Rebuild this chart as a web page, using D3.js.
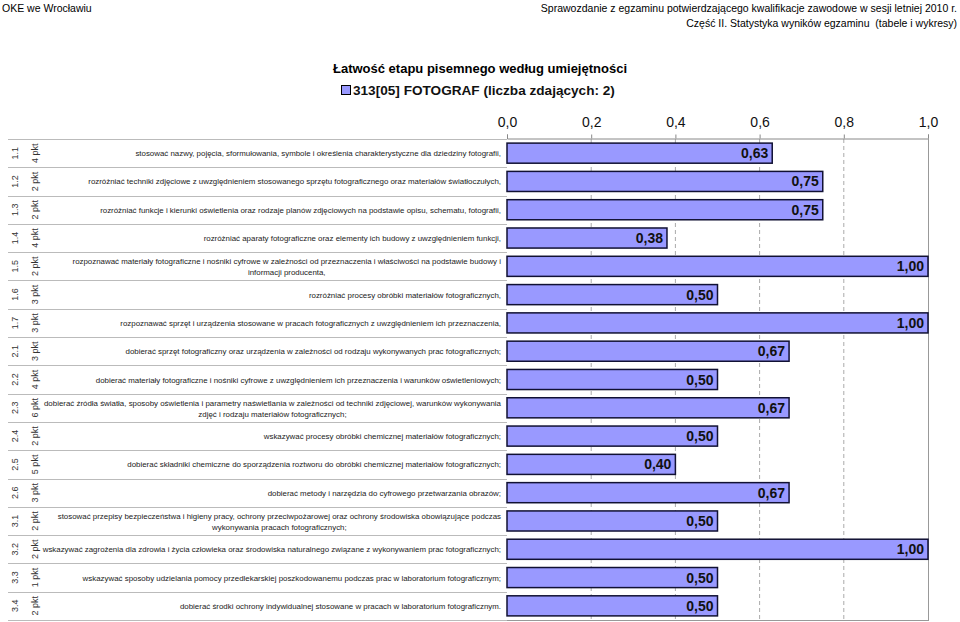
<!DOCTYPE html>
<html><head><meta charset="utf-8">
<script src="https://cdn.jsdelivr.net/npm/d3@7"></script>
<style>
body{margin:0;background:#fff;}
svg{display:block;font-family:"Liberation Sans",Arial,Helvetica,sans-serif;}
</style></head>
<body><svg id="chart" width="960" height="622"></svg>
<script>
const codes = ["1.1","1.2","1.3","1.4","1.5","1.6","1.7","2.1","2.2","2.3","2.4","2.5","2.6","3.1","3.2","3.3","3.4"];
const points = ["4 pkt","2 pkt","2 pkt","4 pkt","2 pkt","3 pkt","3 pkt","3 pkt","4 pkt","6 pkt","2 pkt","5 pkt","3 pkt","2 pkt","2 pkt","1 pkt","2 pkt"];
const descriptions = [
 ["stosować nazwy, pojęcia, sformułowania, symbole i określenia charakterystyczne dla dziedziny fotografii,"],
 ["rozróżniać techniki zdjęciowe z uwzględnieniem stosowanego sprzętu fotograficznego oraz materiałów światłoczułych,"],
 ["rozróżniać funkcje i kierunki oświetlenia oraz rodzaje planów zdjęciowych na podstawie opisu, schematu, fotografii,"],
 ["rozróżniać aparaty fotograficzne oraz elementy ich budowy z uwzględnieniem funkcji,"],
 ["rozpoznawać materiały fotograficzne i nośniki cyfrowe w zależności od przeznaczenia i właściwości na podstawie budowy i","informacji producenta,"],
 ["rozróżniać procesy obróbki materiałów fotograficznych,"],
 ["rozpoznawać sprzęt i urządzenia stosowane w pracach fotograficznych z uwzględnieniem ich przeznaczenia,"],
 ["dobierać sprzęt fotograficzny oraz urządzenia w zależności od rodzaju wykonywanych prac fotograficznych;"],
 ["dobierać materiały fotograficzne i nośniki cyfrowe z uwzględnieniem ich przeznaczenia i warunków oświetleniowych;"],
 ["dobierać źródła światła, sposoby oświetlenia i parametry naświetlania w zależności od techniki zdjęciowej, warunków wykonywania","zdjęć i rodzaju materiałów fotograficznych;"],
 ["wskazywać procesy obróbki chemicznej materiałów fotograficznych;"],
 ["dobierać składniki chemiczne do sporządzenia roztworu do obróbki chemicznej materiałów fotograficznych;"],
 ["dobierać metody i narzędzia do cyfrowego przetwarzania obrazów;"],
 ["stosować przepisy bezpieczeństwa i higieny pracy, ochrony przeciwpożarowej oraz ochrony środowiska obowiązujące podczas","wykonywania pracach fotograficznych;"],
 ["wskazywać zagrożenia dla zdrowia i życia człowieka oraz środowiska naturalnego związane z wykonywaniem prac fotograficznych;"],
 ["wskazywać sposoby udzielania pomocy przedlekarskiej poszkodowanemu podczas prac w laboratorium fotograficznym;"],
 ["dobierać środki ochrony indywidualnej stosowane w pracach w laboratorium fotograficznym."]
];
const values = [0.63,0.75,0.75,0.38,1.00,0.50,1.00,0.67,0.50,0.67,0.50,0.40,0.67,0.50,1.00,0.50,0.50];
const xTicks = [0,0.2,0.4,0.6,0.8,1.0];
const seriesName = "313[05] FOTOGRAF (liczba zdających: 2)";
const title = "Łatwość etapu pisemnego według umiejętności";

const svg = d3.select("#chart");
const fmt = v => d3.format(".2f")(v).replace(".", ",");
const fmt1 = v => d3.format(".1f")(v).replace(".", ",");

const x = d3.scaleLinear().domain([0,1]).range([507,928]);
const y = d3.scaleBand().domain(codes).range([139,620]).paddingInner(0.29).paddingOuter(0.145);

// header
svg.append("text").attr("x",2).attr("y",12).attr("font-size",10.5).attr("fill","#000").text("OKE we Wrocławiu");
svg.append("text").attr("x",957).attr("y",12).attr("text-anchor","end").attr("font-size",10.5).text("Sprawozdanie z egzaminu potwierdzającego kwalifikacje zawodowe w sesji letniej 2010 r.");
svg.append("text").attr("x",957).attr("y",27).attr("text-anchor","end").attr("font-size",10.5).style("white-space","pre").text("Część II. Statystyka wyników egzaminu  (tabele i wykresy)");

// title & legend
svg.append("text").attr("x",480).attr("y",73).attr("text-anchor","middle").attr("font-size",13).attr("font-weight","bold").text(title);
svg.append("rect").attr("x",341.5).attr("y",85.5).attr("width",9).attr("height",9).attr("fill","#9999ff").attr("stroke","#000").attr("stroke-width",1);
svg.append("text").attr("x",353).attr("y",95).attr("font-size",13.6).attr("font-weight","bold").attr("fill","#111").text(seriesName);

// gridlines
svg.append("g").selectAll("line").data(xTicks.filter(t=>t>0&&t<1)).join("line")
  .attr("x1",d=>x(d)).attr("x2",d=>x(d)).attr("y1",139).attr("y2",620)
  .attr("stroke","#aaa").attr("stroke-dasharray","4,3").attr("stroke-width",1);

// top axis
const ax = svg.append("g").attr("transform","translate(0,138.5)")
  .call(d3.axisTop(x).tickValues(xTicks).tickFormat(fmt1).tickSize(4).tickPadding(8));
ax.select(".domain").attr("stroke","#888");
ax.selectAll(".tick line").attr("stroke","#888");
ax.selectAll("text").attr("font-size",14).attr("fill","#111").attr("font-family","'Liberation Sans',Arial,sans-serif");
// right & bottom border
svg.append("line").attr("x1",928.5).attr("x2",928.5).attr("y1",138).attr("y2",620.5).attr("stroke","#999");
svg.append("line").attr("x1",507).attr("x2",929).attr("y1",620.5).attr("y2",620.5).attr("stroke","#999");

// row separators
const step = y.step();
const seps = codes.map((c,i)=>139 + i*step).concat([620]);
svg.append("g").selectAll("line").data(seps).join("line")
  .attr("x1",8).attr("x2",507).attr("y1",d=>Math.round(d)+0.5).attr("y2",d=>Math.round(d)+0.5)
  .attr("stroke","#bbb").attr("stroke-width",1);

// rotated labels
const rows = svg.append("g").selectAll("g").data(codes).join("g")
  .attr("transform",(d,i)=>`translate(0,${139 + i*step + step/2})`);
rows.append("text").attr("transform","translate(18,0) rotate(-90)").attr("text-anchor","middle")
  .attr("font-size",9).attr("fill","#333").text(d=>d);
rows.append("text").attr("transform","translate(38,0) rotate(-90)").attr("text-anchor","middle")
  .attr("font-size",9).attr("fill","#333").text((d,i)=>points[i]);

// descriptions
const dfs = 7.9;
rows.each(function(d,i){
  const g = d3.select(this);
  const lines = descriptions[i];
  if(lines.length===1){
    g.append("text").attr("x",501).attr("y",3).attr("text-anchor","end")
      .attr("font-size",dfs).attr("fill","#222").text(lines[0]);
  } else {
    const t1 = g.append("text").attr("x",501).attr("y",-2).attr("text-anchor","end")
      .attr("font-size",dfs).attr("fill","#222").text(lines[0]);
    const w = t1.node().getComputedTextLength();
    g.append("text").attr("x",501 - w/2).attr("y",9).attr("text-anchor","middle")
      .attr("font-size",dfs).attr("fill","#222").text(lines[1]);
  }
});

// bars
svg.append("g").selectAll("rect").data(values).join("rect")
  .attr("x",x(0)).attr("y",(d,i)=>y(codes[i]))
  .attr("width",d=>x(d)-x(0)).attr("height",y.bandwidth())
  .attr("fill","#9999ff").attr("stroke","#111133").attr("stroke-width",1.5);

// value labels
svg.append("g").selectAll("text").data(values).join("text")
  .attr("x",d=>x(d)-4).attr("y",(d,i)=>y(codes[i])+y.bandwidth()/2+5)
  .attr("text-anchor","end").attr("font-size",14).attr("font-weight","bold").attr("fill","#111")
  .text(d=>fmt(d));
</script></body></html>
